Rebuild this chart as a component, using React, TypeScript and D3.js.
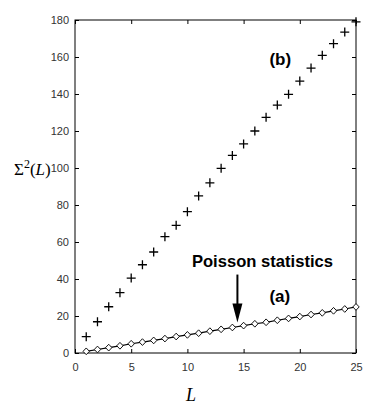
import * as d3 from "d3";
import { useEffect, useRef } from "react";

// L values shared by both series
const lengths = d3.range(1, 26);

// (b) plus markers
const seriesB = [
  8.8, 16.9, 25.0, 32.6, 40.5, 47.7, 54.6, 62.9, 69.0, 76.4, 84.9, 92.0, 99.8,
  106.8, 113.0, 120.0, 127.4, 134.0, 139.8, 147.0, 154.0, 160.9, 167.2, 173.5, 179.0,
];

// (a) diamond markers, close to Poisson line
const seriesA = [
  0.9, 1.9, 2.9, 3.9, 5.0, 5.9, 6.8, 7.8, 8.9, 9.8, 10.7, 11.8, 12.8, 13.8, 14.8,
  15.8, 16.6, 17.7, 18.7, 19.7, 20.8, 21.7, 22.8, 23.8, 24.9,
];

const xTicks = [0, 5, 10, 15, 20, 25];
const yTicks = [0, 20, 40, 60, 80, 100, 120, 140, 160, 180];

const App = () => {
  const svgRef = useRef<SVGSVGElement>(null);

  useEffect(() => {
    const width = 371;
    const height = 409;
    const margin = { top: 20, right: 15, bottom: 56, left: 75 };
    const innerWidth = width - margin.left - margin.right;
    const innerHeight = height - margin.top - margin.bottom;

    const root = d3.select(svgRef.current);
    root.selectAll("*").remove();

    const svg = root
      .append("g")
      .attr("transform", `translate(${margin.left},${margin.top})`);

    const xScale = d3.scaleLinear().domain([0, 25]).range([0, innerWidth]);
    const yScale = d3.scaleLinear().domain([0, 180]).range([innerHeight, 0]);

    const tickFont = "Liberation Sans, Arial, sans-serif";

    // bottom axis with inward ticks
    const bottom = svg
      .append("g")
      .attr("transform", `translate(0,${innerHeight})`)
      .call(d3.axisBottom(xScale).tickValues(xTicks).tickSizeInner(-4).tickSizeOuter(0).tickPadding(10));
    // left axis
    const left = svg
      .append("g")
      .call(d3.axisLeft(yScale).tickValues(yTicks).tickSizeInner(-4).tickSizeOuter(0).tickPadding(6));
    // top + right ticks, no labels
    const top = svg
      .append("g")
      .call(d3.axisTop(xScale).tickValues(xTicks).tickSizeInner(-4).tickSizeOuter(0).tickFormat(() => ""));
    const right = svg
      .append("g")
      .attr("transform", `translate(${innerWidth},0)`)
      .call(d3.axisRight(yScale).tickValues(yTicks).tickSizeInner(-4).tickSizeOuter(0).tickFormat(() => ""));

    [bottom, left, top, right].forEach((g) => {
      g.select(".domain").remove();
      g.selectAll("line").attr("stroke", "#000");
      g.selectAll("text")
        .attr("fill", "#333")
        .style("font-family", tickFont)
        .style("font-size", "11px");
    });

    // frame
    svg
      .append("rect")
      .attr("width", innerWidth)
      .attr("height", innerHeight)
      .attr("fill", "none")
      .attr("stroke", "#000")
      .attr("stroke-width", 1);

    // (a) connecting line
    const line = d3
      .line<number>()
      .x((d, i) => xScale(lengths[i]))
      .y((d) => yScale(d));
    svg
      .append("path")
      .datum(seriesA)
      .attr("d", line)
      .attr("fill", "none")
      .attr("stroke", "#000")
      .attr("stroke-width", 1.2);

    // diamonds
    const diamond = d3.symbol().type(d3.symbolDiamond2).size(32);
    svg
      .selectAll(".dia")
      .data(seriesA)
      .enter()
      .append("path")
      .attr("class", "dia")
      .attr("d", diamond)
      .attr("transform", (d, i) => `translate(${xScale(lengths[i])},${yScale(d)}) scale(0.9,0.95)`)
      .attr("fill", "#fff")
      .attr("stroke", "#000")
      .attr("stroke-width", 1);

    // pluses for (b)
    svg
      .selectAll(".plus")
      .data(seriesB)
      .enter()
      .append("path")
      .attr("class", "plus")
      .attr("d", (d, i) => {
        const x = xScale(lengths[i]);
        const y = yScale(d);
        return `M${x - 4.5},${y}H${x + 4.5}M${x},${y - 4.5}V${y + 4.5}`;
      })
      .attr("stroke", "#000")
      .attr("stroke-width", 1.3);

    // annotations
    const bold = "Liberation Sans, Arial, sans-serif";
    svg
      .append("text")
      .attr("x", xScale(17.3))
      .attr("y", yScale(155.5))
      .style("font-family", bold)
      .style("font-weight", "bold")
      .style("font-size", "17px")
      .text("(b)");
    svg
      .append("text")
      .attr("x", xScale(10.4))
      .attr("y", yScale(46.7))
      .style("font-family", bold)
      .style("font-weight", "bold")
      .style("font-size", "16.6px")
      .text("Poisson statistics");
    svg
      .append("text")
      .attr("x", xScale(17.3))
      .attr("y", yScale(27.5))
      .style("font-family", bold)
      .style("font-weight", "bold")
      .style("font-size", "17px")
      .text("(a)");

    // arrow pointing at the Poisson line
    const ax = xScale(14.45);
    svg
      .append("line")
      .attr("x1", ax)
      .attr("x2", ax)
      .attr("y1", yScale(42.4))
      .attr("y2", yScale(24))
      .attr("stroke", "#000")
      .attr("stroke-width", 2);
    svg
      .append("path")
      .attr("d", `M${ax - 5},${yScale(26.8)}L${ax + 5},${yScale(26.8)}L${ax},${yScale(16.5)}Z`)
      .attr("fill", "#000");

    // axis labels
    const serif = "Liberation Serif, Times New Roman, serif";
    root
      .append("text")
      .attr("x", 191)
      .attr("y", 401)
      .attr("text-anchor", "middle")
      .style("font-family", serif)
      .style("font-style", "italic")
      .style("font-size", "18px")
      .text("L");

    const ylab = root
      .append("text")
      .attr("x", 14)
      .attr("y", 175)
      .style("font-family", serif)
      .style("font-size", "17px");
    ylab.append("tspan").text("Σ");
    ylab.append("tspan").attr("dy", -7).style("font-size", "12px").text("2");
    ylab.append("tspan").attr("dy", 7).text("(");
    ylab.append("tspan").style("font-style", "italic").text("L");
    ylab.append("tspan").text(")");
  }, []);

  return (
    <svg
      ref={svgRef}
      width={371}
      height={409}
      style={{ position: "absolute", left: 0, top: 0, background: "#fff" }}
    />
  );
};

export default App;
